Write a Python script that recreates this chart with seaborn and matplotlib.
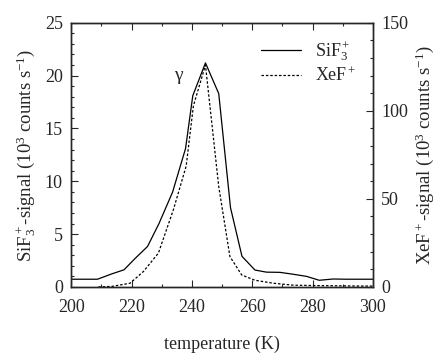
import matplotlib
matplotlib.use("Agg")
import matplotlib.pyplot as plt
import numpy as np
import pandas as pd
import seaborn as sns
from matplotlib.ticker import MultipleLocator

# SiF3+ signal (left axis, 10^3 counts/s)
t_sif = [200, 208.7, 213.5, 217.5, 221.2, 225.3, 229.1, 233.6, 237.9, 240.3,
         244.5, 248.9, 252.8, 256.6, 260.9, 264.7, 269.2, 273.6, 278.0, 282.2,
         286.8, 291.3, 300]
sif = [0.73, 0.73, 1.24, 1.62, 2.7, 3.83, 6.0, 8.97, 13.1, 18.1,
       21.2, 18.3, 7.5, 2.9, 1.6, 1.4, 1.38, 1.2, 1.0, 0.63,
       0.75, 0.73, 0.73]

# XeF+ signal (right axis, 10^3 counts/s)
t_xef = [209, 213.5, 219.5, 223.9, 228.9, 233.9, 238.1, 240.5, 244.5, 248.9,
         252.6, 256.5, 260.9, 267.0, 273.6, 280.0, 295.6, 300]
xef = [0.0, 0.3, 2.1, 8.7, 19.2, 44.0, 68.6, 102.8, 126.0, 57.0,
       17.3, 6.8, 3.8, 2.1, 1.0, 0.8, 0.5, 0.5]

sns.set_style("ticks")
plt.rcParams['font.family'] = ['Liberation Serif', 'DejaVu Serif']
plt.rcParams['mathtext.fontset'] = 'custom'
plt.rcParams['mathtext.rm'] = 'Liberation Serif'
plt.rcParams['mathtext.it'] = 'Liberation Serif:italic'

df1 = pd.DataFrame({'T': t_sif, 'sig': sif})
df2 = pd.DataFrame({'T': t_xef, 'sig': xef})

fig = plt.figure(figsize=(4.45, 3.56), dpi=100)
ax = fig.add_axes([0.160, 0.194, 0.678, 0.742])
ax2 = ax.twinx()

sns.lineplot(data=df1, x='T', y='sig', ax=ax, color='black', lw=0.9,
             label='SiF$_3^+$', legend=False)
sns.lineplot(data=df2, x='T', y='sig', ax=ax2, color='black', lw=0.9,
             linestyle=(0, (2.0, 1.5)), label='XeF$^+$', legend=False)

ax.set_xlim(200, 300)
ax.set_ylim(0, 25)
ax2.set_ylim(0, 150)

ax.xaxis.set_major_locator(MultipleLocator(20))
ax.xaxis.set_minor_locator(MultipleLocator(10))
ax.yaxis.set_major_locator(MultipleLocator(5))
ax.yaxis.set_minor_locator(MultipleLocator(1))
ax2.yaxis.set_major_locator(MultipleLocator(50))
ax2.yaxis.set_minor_locator(MultipleLocator(10))

ax.tick_params(which='both', direction='in', top=True, right=False, labelsize=13, width=0.8)
ax.tick_params(which='major', length=5)
ax.tick_params(which='minor', length=2.5)
ax.tick_params(axis='x', which='major', pad=9)
ax.tick_params(axis='y', which='major', pad=6)
ax2.tick_params(which='both', direction='in', labelsize=13, width=0.8)
ax2.tick_params(which='major', length=5, pad=6)
ax2.tick_params(which='minor', length=2.5)

for a in (ax, ax2):
    for s in a.spines.values():
        s.set_linewidth(1.0)

ax.set_xlabel('temperature (K)', fontsize=13, labelpad=14)
ax.set_ylabel('SiF$_3^+$-signal (10$^3$ counts s$^{-1}$)', fontsize=13.5, labelpad=5)
ax2.set_ylabel('XeF$^+$-signal (10$^3$ counts s$^{-1}$)', fontsize=13.5, labelpad=4)

ax.text(235.4, 20.0, 'γ', fontsize=14, ha='center', va='center')

h1, l1 = ax.get_legend_handles_labels()
h2, l2 = ax2.get_legend_handles_labels()
ax.legend(h1 + h2, l1 + l2, loc='upper right', frameon=False, fontsize=13,
          handlelength=2.2, handletextpad=0.8, labelspacing=0.2,
          borderaxespad=0.5)

fig.savefig('out.png', dpi=100)
